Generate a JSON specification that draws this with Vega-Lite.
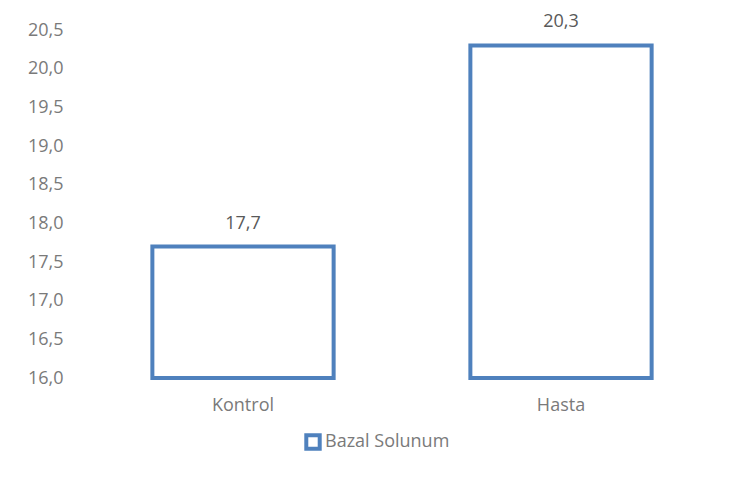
{
  "$schema": "https://vega.github.io/schema/vega-lite/v6.json",
  "width": 636,
  "height": 348,
  "autosize": {"type": "none"},
  "padding": {"left": 84, "top": 30, "right": 17, "bottom": 109},
  "background": "white",
  "config": {
    "view": {"stroke": null},
    "font": "Open Sans",
    "locale": {"number": {"decimal": ",", "thousands": ".", "grouping": [3], "currency": ["", ""]}}
  },
  "data": {
    "values": [
      {"grup": "Kontrol", "deger": 17.7, "seri": "Bazal Solunum"},
      {"grup": "Hasta", "deger": 20.3, "seri": "Bazal Solunum"}
    ]
  },
  "encoding": {
    "x": {
      "field": "grup", "type": "nominal", "sort": ["Kontrol", "Hasta"],
      "scale": {"paddingInner": 0.43, "paddingOuter": 0.215},
      "axis": {"title": null, "domain": false, "ticks": false, "labelAngle": 0, "labelFontSize": 18, "labelColor": "#7a7a7a", "labelPadding": 18}
    },
    "y": {
      "field": "deger", "type": "quantitative",
      "scale": {"domain": [16, 20.5], "nice": false, "zero": false},
      "axis": {"title": null, "domain": false, "ticks": false, "grid": false, "values": [16, 16.5, 17, 17.5, 18, 18.5, 19, 19.5, 20, 20.5], "format": ".1f", "labelFontSize": 18, "labelColor": "#7a7a7a", "labelPadding": 21}
    }
  },
  "layer": [
    {
      "mark": {"type": "bar", "fill": "white", "strokeWidth": 4},
      "encoding": {
        "y2": {"datum": 16},
        "stroke": {
          "field": "seri", "type": "nominal",
          "scale": {"range": ["#4F81BD"]},
          "legend": {"title": null, "orient": "none", "legendX": 220, "legendY": 403, "symbolType": "square", "symbolSize": 180, "symbolStrokeWidth": 4, "symbolFillColor": "white", "labelFontSize": 18, "labelColor": "#7a7a7a", "labelOffset": 3}
        }
      }
    },
    {
      "mark": {"type": "text", "baseline": "bottom", "dy": -14, "fontSize": 18, "color": "#595959"},
      "encoding": {"text": {"field": "deger", "type": "quantitative", "format": ".1f"}}
    }
  ]
}
